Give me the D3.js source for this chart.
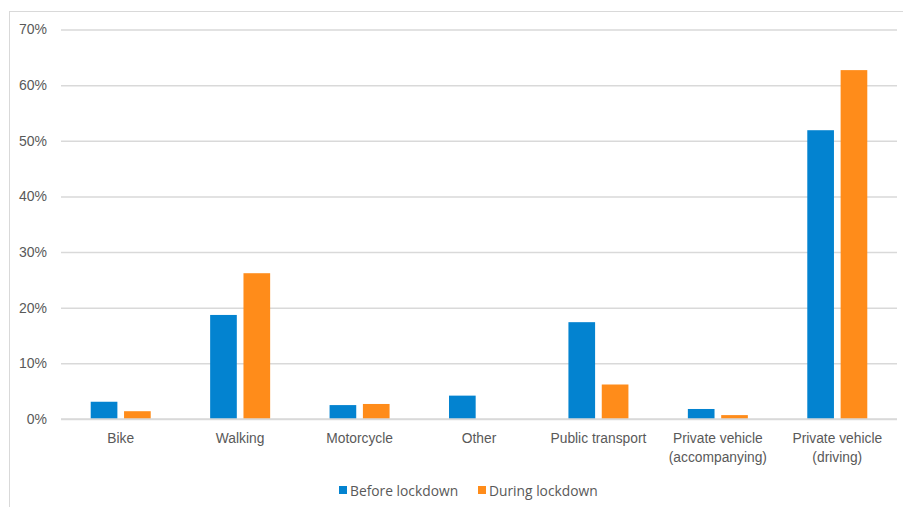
<!DOCTYPE html>
<html>
<head>
<meta charset="utf-8">
<script src="https://cdn.jsdelivr.net/npm/d3@7/dist/d3.min.js"></script>
<style>
  html, body { margin: 0; padding: 0; background: #fff; }
  svg { display: block; font-family: "Open Sans", "DejaVu Sans", sans-serif; }
</style>
</head>
<body>
<svg id="chart" width="903" height="507"></svg>
<script>
// Commute mode share before and during lockdown (percent)
const categories = ["Bike", "Walking", "Motorcycle", "Other", "Public transport",
  "Private vehicle\n(accompanying)", "Private vehicle\n(driving)"];
const seriesNames = ["Before lockdown", "During lockdown"];
const beforeLockdown = [3.1, 18.7, 2.5, 4.2, 17.4, 1.8, 51.9];
const duringLockdown = [1.4, 26.2, 2.7, 0, 6.2, 0.7, 62.7];
const yTicks = [0, 10, 20, 30, 40, 50, 60, 70];
const colors = ["#0383D0", "#FF8C1A"];

const svg = d3.select("#chart");
const W = 903, H = 507;
const margin = { left: 61, right: 6, top: 29.5, bottom: 88 };
const fontSize = "13.8px";

// outer frame
svg.append("rect")
  .attr("x", 9.5).attr("y", 11.5)
  .attr("width", W + 20).attr("height", H + 20)
  .attr("fill", "none").attr("stroke", "#d9d9d9").attr("stroke-width", 1);

const x = d3.scaleBand()
  .domain(categories)
  .range([margin.left, W - margin.right])
  .paddingInner(0).paddingOuter(0);

const y = d3.scaleLinear()
  .domain([0, 70])
  .range([H - margin.bottom, margin.top]);

const inner = d3.scaleBand()
  .domain(seriesNames)
  .range([x.bandwidth() / 2 - 30, x.bandwidth() / 2 + 30])
  .paddingInner(0.2);

// horizontal gridlines and y labels via axis
const yAxis = svg.append("g")
  .attr("transform", `translate(${margin.left},0)`)
  .call(d3.axisLeft(y).tickValues(yTicks)
    .tickFormat(d => d + "%")
    .tickSize(-(W - margin.right - margin.left))
    .tickPadding(14));
yAxis.select(".domain").remove();
yAxis.selectAll(".tick line").attr("stroke", "#d9d9d9").attr("stroke-width", 1.5);
yAxis.selectAll(".tick text")
  .attr("fill", "#595959").attr("font-size", "14px");

const data = categories.map((c, i) => ({ cat: c, vals: [beforeLockdown[i], duringLockdown[i]] }));

const groups = svg.append("g").selectAll("g")
  .data(data).join("g")
  .attr("transform", d => `translate(${x(d.cat)},0)`);

groups.selectAll("rect")
  .data(d => d.vals.map((v, k) => ({ v, k })))
  .join("rect")
  .attr("x", d => inner(seriesNames[d.k]))
  .attr("width", inner.bandwidth())
  .attr("y", d => y(d.v))
  .attr("height", d => y(0) - y(d.v))
  .attr("fill", d => colors[d.k]);

// baseline redrawn on top
svg.append("line")
  .attr("x1", margin.left).attr("x2", W - margin.right)
  .attr("y1", y(0)).attr("y2", y(0))
  .attr("stroke", "#d9d9d9").attr("stroke-width", 1.5);

// category labels via bottom axis
const xAxis = svg.append("g")
  .attr("transform", `translate(0,${y(0)})`)
  .call(d3.axisBottom(x).tickSize(0).tickFormat(""));
xAxis.select(".domain").remove();
xAxis.selectAll(".tick").each(function(d) {
  const lines = d.split("\n");
  const t = d3.select(this).append("text")
    .attr("fill", "#595959").attr("font-size", fontSize)
    .attr("text-anchor", "middle");
  lines.forEach((ln, j) => {
    t.append("tspan").attr("x", 0).attr("y", 23.5 + j * 19).text(ln);
  });
});

// legend
const legend = svg.append("g").attr("transform", "translate(339,491)");
const legendX = [0, 139];
seriesNames.forEach((name, k) => {
  const g = legend.append("g").attr("transform", `translate(${legendX[k]},0)`);
  g.append("rect").attr("x", 0).attr("y", -5).attr("width", 8).attr("height", 8)
    .attr("fill", colors[k]);
  g.append("text").attr("x", 11).attr("y", 5)
    .attr("fill", "#595959").attr("font-size", fontSize).text(name);
});
</script>
</body>
</html>
